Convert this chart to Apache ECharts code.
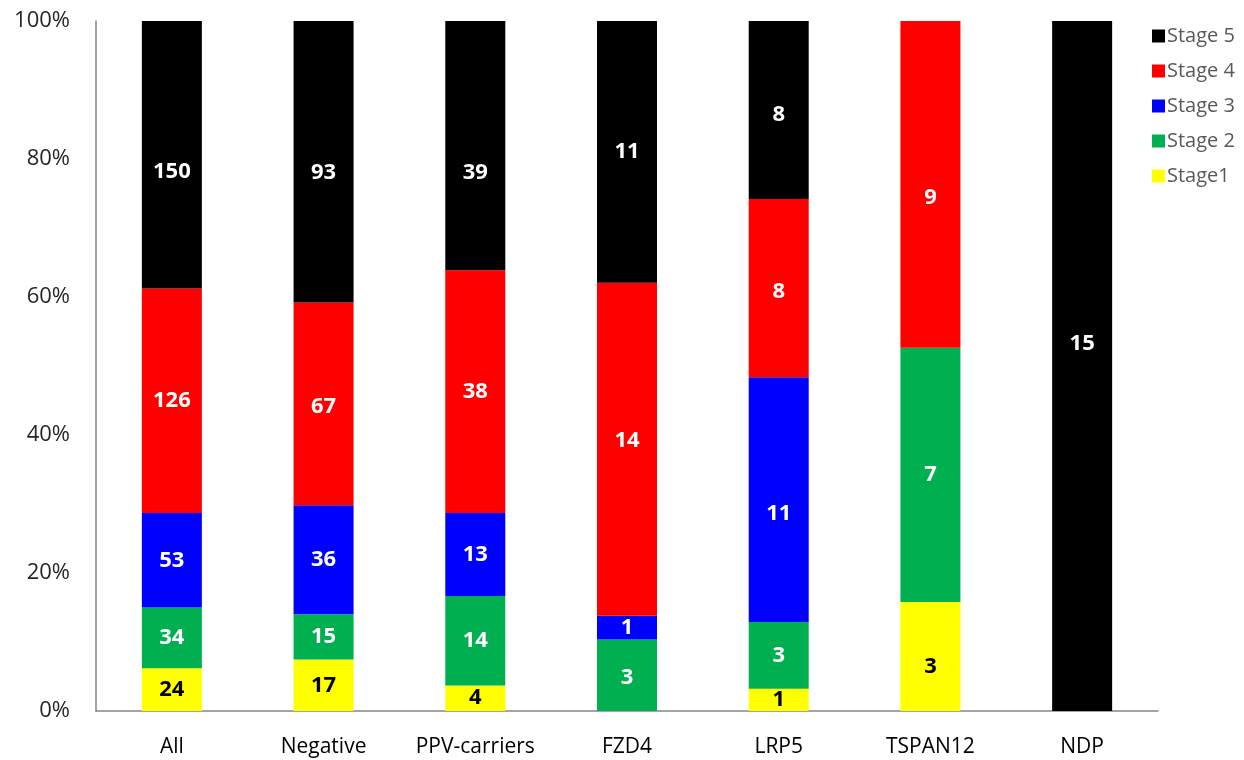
<!DOCTYPE html>
<html>
<head>
<meta charset="utf-8">
<script src="https://cdn.jsdelivr.net/npm/echarts@6/dist/echarts.min.js"></script>
<style>html,body{margin:0;padding:0;background:#fff}#c{width:1244px;height:760px}</style>
</head>
<body>
<div id="c"></div>
<script>
var categories = ['All', 'Negative', 'PPV-carriers', 'FZD4', 'LRP5', 'TSPAN12', 'NDP'];
var stage1 = [24, 17, 4, 0, 1, 3, 0];
var stage2 = [34, 15, 14, 3, 3, 7, 0];
var stage3 = [53, 36, 13, 1, 11, 0, 0];
var stage4 = [126, 67, 38, 14, 8, 9, 0];
var stage5 = [150, 93, 39, 11, 8, 0, 15];
var seriesNames = ['Stage1', 'Stage 2', 'Stage 3', 'Stage 4', 'Stage 5'];
var legendOrder = ['Stage 5', 'Stage 4', 'Stage 3', 'Stage 2', 'Stage1'];
var yTicks = [0, 20, 40, 60, 80, 100];

var counts = [stage1, stage2, stage3, stage4, stage5];
var colors = ['#FFFF00', '#00B050', '#0000FF', '#FF0000', '#000000'];
var labelColors = ['#000000', '#ffffff', '#ffffff', '#ffffff', '#ffffff'];
// small vertical nudges of data labels (pixels) to mimic the original's label placement
var labelNudge = [
  [0, 0, 0, 0, 0, 10, 0],
  [0, 0, 0, 2, 0, 0, 0],
  [0, 0, 0, 0, 14, 0, 0],
  [0, 3, 0, -9, 4, 13, 0],
  [17, 11, 27, 0, 5, 0, -22]
];
var totals = categories.map(function (_, i) {
  return counts.reduce(function (s, arr) { return s + arr[i]; }, 0);
});
var FONT = 'Open Sans';

var series = counts.map(function (arr, k) {
  return {
    name: seriesNames[k],
    type: 'bar',
    stack: 'total',
    barWidth: 60,
    itemStyle: { color: colors[k] },
    label: {
      show: true,
      position: 'inside',
      fontFamily: FONT,
      fontWeight: 'bold',
      fontSize: 22,
      color: labelColors[k],
      formatter: function (p) { return p.data.count > 0 ? String(p.data.count) : ''; }
    },
    data: arr.map(function (v, i) {
      return {
        value: totals[i] ? v / totals[i] * 100 : 0,
        count: v,
        label: { offset: [0, labelNudge[k][i]] }
      };
    })
  };
});

var chart = echarts.init(document.getElementById('c'));
chart.setOption({
  animation: false,
  backgroundColor: '#ffffff',
  grid: { left: 96, right: 86, top: 21, bottom: 49, containLabel: false },
  legend: {
    orient: 'vertical',
    left: 1147,
    top: 21,
    itemWidth: 13,
    itemHeight: 13,
    itemGap: 15,
    icon: 'rect',
    data: legendOrder,
    textStyle: { fontFamily: FONT, fontSize: 20, color: '#595959', padding: [0, 0, 0, -3] }
  },
  xAxis: {
    type: 'category',
    data: categories,
    axisLine: { lineStyle: { color: '#868686', width: 1.5 } },
    axisTick: { show: false },
    axisLabel: { interval: 0, hideOverlap: false, fontFamily: FONT, fontSize: 21, color: '#000000', margin: 26 }
  },
  yAxis: {
    type: 'value',
    min: yTicks[0],
    max: yTicks[yTicks.length - 1],
    interval: 20,
    axisLine: { show: true, lineStyle: { color: '#868686', width: 1.5 } },
    axisTick: { show: false },
    splitLine: { show: false },
    axisLabel: { fontFamily: FONT, fontSize: 22, color: '#262626', margin: 26, formatter: '{value}%' }
  },
  series: series
});
</script>
</body>
</html>
